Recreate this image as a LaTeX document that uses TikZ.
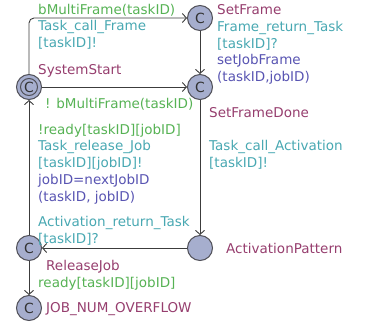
\documentclass[tikz,border=0pt]{standalone}
\usepackage{fontspec}
\setmainfont{DejaVu Sans}
\usetikzlibrary{arrows.meta}
\definecolor{uppgreen}{RGB}{86,178,84}
\definecolor{uppteal}{RGB}{72,168,178}
\definecolor{upppurple}{RGB}{150,62,110}
\definecolor{uppblue}{RGB}{88,84,178}
\definecolor{locfill}{RGB}{166,174,206}
\definecolor{locborder}{RGB}{80,80,88}
\definecolor{edgegray}{RGB}{60,60,60}

\begin{document}
\begin{tikzpicture}[x=1pt,y=-1pt,font=\fontsize{13.5}{16.6}\selectfont]

%
% Styles
%
\tikzstyle{loc} = [circle,draw=locborder,fill=locfill,line width=1pt,minimum size=25pt,inner sep=0pt,font=\fontsize{14}{14}\selectfont,text=black!80]
\tikzstyle{edge} = [draw=edgegray,line width=0.9pt,-{Straight Barb[length=4pt,width=9pt]}]
\tikzstyle{lbl} = [anchor=base west,inner sep=0pt,align=left]

\useasboundingbox (0,0) rectangle (375,327);

% locations
\node[loc] (start) at ( 29, 87) {C};
\draw[locborder,line width=1pt] (start.center) circle (8.5);
\node[loc] (setframe)  at (200, 18) {C};
\node[loc] (framedone) at (200, 87) {C};
\node[loc] (actpat)    at (200,248) {};
\node[loc] (release)   at ( 29,248) {C};
\node[loc] (overflow)  at ( 29,308) {C};

% location names
\node[lbl,text=upppurple] (nstart)    at ( 38, 74) {SystemStart};
\node[lbl,text=upppurple] (nframe)    at (217, 14) {SetFrame};
\node[lbl,text=upppurple] (ndone)     at (209,117) {SetFrameDone};
\node[lbl,text=upppurple] (nact)      at (226,253) {ActivationPattern};
\node[lbl,text=upppurple] (nrelease)  at ( 46,270) {ReleaseJob};
\node[lbl,text=upppurple] (noverflow) at ( 46,312) {JOB\_NUM\_OVERFLOW};

% edges
\draw[edge,rounded corners=5] (start) |- (setframe);
\draw[edge] (start) -- (framedone);
\draw[edge] (setframe) -- (framedone);
\draw[edge] (framedone) -- (actpat);
\draw[edge] (actpat) -- (release);
\draw[edge] (release) -- (start);
\draw[edge] (release) -- (overflow);

% guards, syncs, updates (multi-line labels sit on their last line)
\node[lbl,text=uppgreen] (gmulti)   at ( 38, 14) {bMultiFrame(taskID)};
\node[lbl,text=uppteal]  (scall)    at ( 38, 47) {Task\_call\_Frame\\{}[taskID]!};
\node[lbl,text=uppgreen] (gnmulti)  at ( 45,108) {! bMultiFrame(taskID)};
\node[lbl,text=uppteal]  (sreturn)  at (217, 48) {Frame\_return\_Task\\{}[taskID]?};
\node[lbl,text=uppblue]  (usetjob)  at (217, 81) {setJobFrame\\(taskID,jobID)};
\node[lbl,text=uppteal]  (scallact) at (209,167) {Task\_call\_Activation\\{}[taskID]!};
\node[lbl,text=uppgreen] (gnready)  at ( 38,134) {!ready[taskID][jobID]};
\node[lbl,text=uppteal]  (srelease) at ( 38,167) {Task\_release\_Job\\{}[taskID][jobID]!};
\node[lbl,text=uppblue]  (unext)    at ( 38,201) {jobID=nextJobID\\(taskID, jobID)};
\node[lbl,text=uppteal]  (sactret)  at ( 38,243) {Activation\_return\_Task\\{}[taskID]?};
\node[lbl,text=uppgreen] (gready)   at ( 38,287) {ready[taskID][jobID]};

\end{tikzpicture}
\end{document}
